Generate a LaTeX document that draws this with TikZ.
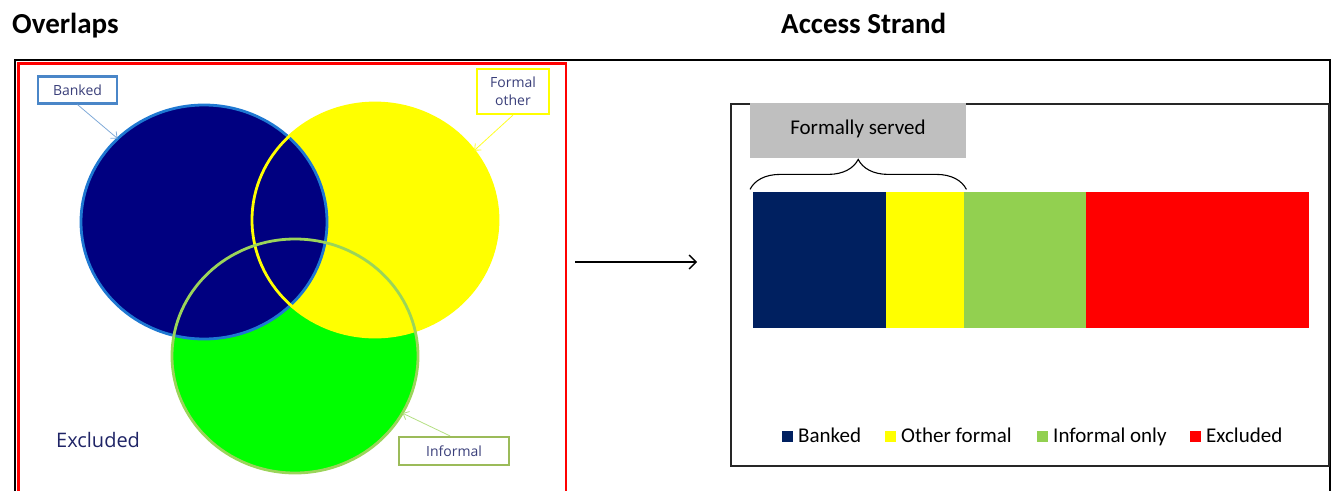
\documentclass[tikz,border=0pt]{standalone}
\usepackage{fontspec}
\setmainfont{Carlito}
\newfontfamily\vennfont{Open Sans}
\usetikzlibrary{shapes.geometric,arrows.meta,decorations.pathreplacing}

\definecolor{venngreen}{HTML}{00FF00}
\definecolor{vennyellow}{HTML}{FFFF00}
\definecolor{vennnavy}{HTML}{000080}
\definecolor{bankline}{HTML}{1E78D2}
\definecolor{greenline}{HTML}{9BD45A}
\definecolor{tagblue}{HTML}{4A86C8}
\definecolor{taggreen}{HTML}{9BBB59}
\definecolor{tagink}{HTML}{3A3F7A}
\definecolor{excludedink}{HTML}{1F2466}
\definecolor{barnavy}{HTML}{002060}
\definecolor{bargreen}{HTML}{92D050}
\definecolor{barred}{HTML}{FF0000}
\definecolor{servedgray}{HTML}{BFBFBF}
\definecolor{frameink}{HTML}{262626}

\tikzset{
  vennset/.style={ellipse, minimum width=246pt, minimum height=234pt, inner sep=0pt},
  tagbox/.style={draw, line width=2.2pt, fill=white, align=center, inner sep=0pt,
    text=tagink, font=\vennfont\fontsize{14}{18}\selectfont},
  tagarrow/.style={line width=0.8pt, -{Straight Barb[length=5pt,width=9pt]}},
  bar/.style={minimum height=136pt, inner sep=0pt, anchor=north west},
  keybox/.style={minimum width=11pt, minimum height=11pt, inner sep=0pt},
  keytext/.style={anchor=base west, inner sep=0pt, font=\fontsize{21}{25}\selectfont},
  heading/.style={anchor=base west, inner sep=0pt, font=\bfseries\fontsize{29}{34}\selectfont},
  bracket/.style={decorate, decoration={brace, amplitude=30pt}, line width=1.1pt}
}

\begin{document}
\begin{tikzpicture}[x=1pt, y=-1pt]
\useasboundingbox (0,0) rectangle (1336,490);

% headings
\node[heading] (overlaps) at (12,33) {Overlaps};
\node[heading] (strand) at (781,33) {Access Strand};

% frames, running past the lower edge
\begin{scope}
  \clip (0,0) rectangle (1336,490);
  \draw[line width=2.4pt, black] (15,60) rectangle (1330,530);
  \draw[line width=2.4pt, red] (18.5,63.5) rectangle (566,530);
\end{scope}
\draw[line width=2.4pt, frameink] (731,104) rectangle (1329,466);

% Venn diagram: fills first, outlines on top
\node[vennset, fill=venngreen] (informal) at (295,356) {};
\node[vennset, fill=vennyellow] (formal) at (375,220) {};
\node[vennset, fill=vennnavy] (banked) at (204,222) {};
\draw[line width=2.8pt, bankline] (banked.center) ellipse [x radius=123pt, y radius=117pt];
\draw[line width=2.8pt, vennyellow] (formal.center) ellipse [x radius=123pt, y radius=117pt];
\draw[line width=2.8pt, greenline] (informal.center) ellipse [x radius=123pt, y radius=117pt];

% callout tags
\node[tagbox, draw=tagblue, minimum width=79pt, minimum height=27pt] (bankedtag) at (77.5,90) {Banked};
\node[tagbox, draw=vennyellow, minimum width=72pt, minimum height=45pt] (formaltag) at (513,91.5) {Formal\\other};
\node[tagbox, draw=taggreen, minimum width=110pt, minimum height=28pt] (informaltag) at (454,451) {Informal};
\draw[tagarrow, tagblue!70] (bankedtag.south) -- (banked.136);
\draw[tagarrow, vennyellow!85!white] (formaltag.south) -- (formal.35);
\draw[tagarrow, greenline!75!white] ([xshift=-4pt]informaltag.north) -- (informal.-28);

\node[anchor=base west, inner sep=0pt, text=excludedink, font=\vennfont\fontsize{20}{24}\selectfont] (excluded) at (56,447) {Excluded};

% arrow between the panels
\coordinate (flowstart) at (575,262);
\coordinate (flowend) at (697,262);
\draw[line width=1.4pt, -{Straight Barb[length=7pt,width=14pt,line width=1.4pt]}] (flowstart) -- (flowend);

% stacked bar (segments overlap by 1pt so no seam shows)
\node[bar, fill=barnavy, minimum width=133pt] (b1) at (753,192) {};
\node[bar, fill=vennyellow, minimum width=79pt] (b2) at ([xshift=-1pt]b1.north east) {};
\node[bar, fill=bargreen, minimum width=123pt] (b3) at ([xshift=-1pt]b2.north east) {};
\node[bar, fill=barred, minimum width=223pt] (b4) at ([xshift=-1pt]b3.north east) {};

% formally served label and brace
\node[fill=servedgray, minimum width=216pt, minimum height=55pt, inner sep=0pt, anchor=north west] (served) at (750,103) {};
\node[anchor=base, inner sep=0pt, font=\fontsize{21}{25}\selectfont] (servedtext) at (858,134) {Formally served};
\draw[bracket] ([yshift=-31pt]served.south west) -- ([yshift=-31pt]served.south east);

% legend
\node[keybox, fill=barnavy] (k1) at (787.5,436) {};
\node[keytext] (t1) at (798,442) {Banked};
\node[keybox, fill=vennyellow] (k2) at (890.5,436) {};
\node[keytext] (t2) at (901,442) {Other formal};
\node[keybox, fill=bargreen] (k3) at (1042.5,436) {};
\node[keytext] (t3) at (1053,442) {Informal only};
\node[keybox, fill=barred] (k4) at (1195.5,436) {};
\node[keytext] (t4) at (1206,442) {Excluded};
\end{tikzpicture}
\end{document}
